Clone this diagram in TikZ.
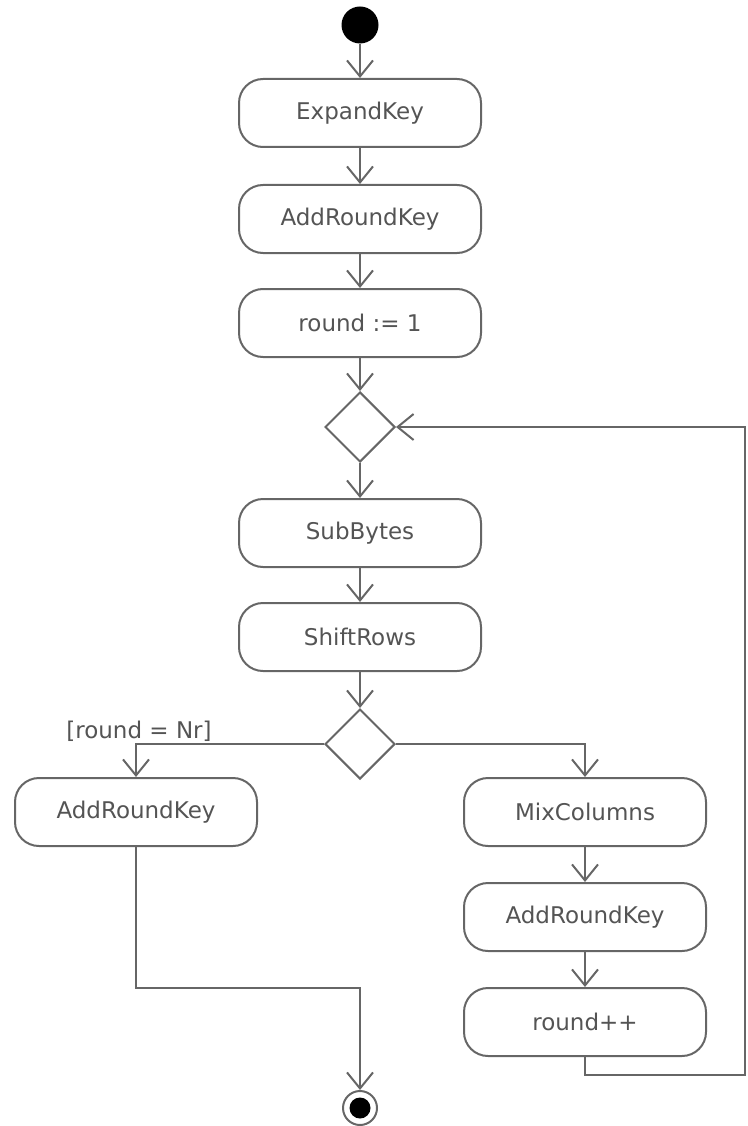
\documentclass[tikz,border=0pt]{standalone}
\usepackage{fontspec}
\setmainfont{DejaVu Sans}
\usetikzlibrary{arrows.meta,shapes.geometric}
\definecolor{linec}{gray}{0.4}
\definecolor{textc}{gray}{0.33}
\begin{document}
\begin{tikzpicture}[x=1pt,y=-1pt,
  act/.style={draw=linec,line width=2pt,rounded corners=24pt,minimum width=242pt,minimum height=68pt,inner sep=0pt,font=\fontsize{23}{27}\selectfont,text=textc},
  dec/.style={draw=linec,line width=2pt,diamond,minimum width=70pt,minimum height=70pt,inner sep=0pt},
  flow/.style={draw=linec,line width=2pt,-{Straight Barb[length=16pt,width=26pt,line width=2pt]}},
  plain/.style={draw=linec,line width=2pt}]
\useasboundingbox (0,0) rectangle (747,1126);
\node[circle,fill=black,minimum size=37pt,inner sep=0pt] (start) at (360,25) {};
\node[act] (expand) at (360,113) {ExpandKey};
\node[act] (ark1) at (360,219) {AddRoundKey};
\node[act] (r1) at (360,323) {round := 1};
\node[dec] (d1) at (360,427) {};
\node[act] (sub) at (360,533) {SubBytes};
\node[act] (shift) at (360,637) {ShiftRows};
\node[dec] (d2) at (360,744) {};
\node[act] (arkL) at (136,812) {AddRoundKey};
\node[act] (mix) at (585,812) {MixColumns};
\node[act] (arkR) at (585,917) {AddRoundKey};
\node[act] (rpp) at (585,1022) {round++};
\node[circle,draw=linec,line width=2pt,minimum size=34pt,inner sep=0pt] (end) at (360,1108) {};
\node[circle,fill=black,minimum size=21pt,inner sep=0pt] at (end.center) {};
\node[font=\fontsize{23}{27}\selectfont,text=textc,anchor=south] (guard) at (139,745) {[round = Nr]};
\coordinate (loopB) at (745,1075);
\coordinate (loopT) at (745,427);
\coordinate (join) at (360,988);
\draw[flow] (start) -- (expand);
\draw[flow] (expand) -- (ark1);
\draw[flow] (ark1) -- (r1);
\draw[flow] (r1) -- (d1);
\draw[flow] (d1) -- (sub);
\draw[flow] (sub) -- (shift);
\draw[flow] (shift) -- (d2);
\draw[flow] (d2.west) -| (arkL.north);
\draw[flow] (d2.east) -| (mix.north);
\draw[flow] (mix) -- (arkR);
\draw[flow] (arkR) -- (rpp);
\draw[flow] (rpp.south) |- (loopB) -- (loopT) -- (d1.east);
\draw[flow] (arkL.south) |- (join) -- (end.north);
\end{tikzpicture}
\end{document}
